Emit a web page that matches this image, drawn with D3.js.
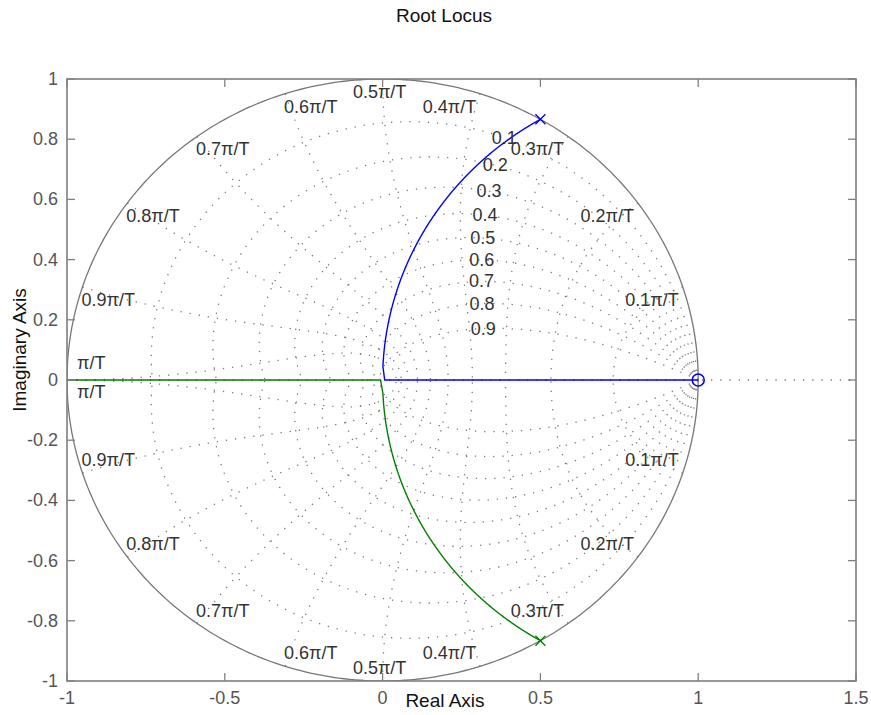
<!DOCTYPE html>
<html>
<head>
<meta charset="UTF-8">
<title>Root Locus</title>
<script src="https://d3js.org/d3.v7.min.js"></script>
<style>
body { margin: 0; background: #fff; }
text { font-family: "Liberation Sans", Arial, sans-serif; }
</style>
</head>
<body>
<div id="chart"></div>
<script>
// open-loop model: poles, zeros
var poles = [{re: 0.5, im: 0.866}, {re: 0.5, im: -0.866}];
var zeros = [{re: 1, im: 0}];

// zgrid values
var zetas = [0.1, 0.2, 0.3, 0.4, 0.5, 0.6, 0.7, 0.8, 0.9];
var wnSteps = [1, 2, 3, 4, 5, 6, 7, 8, 9, 10];   // wn = k*pi/(10T)
var wnLabels = ["0.1\u03c0/T", "0.2\u03c0/T", "0.3\u03c0/T", "0.4\u03c0/T", "0.5\u03c0/T",
                "0.6\u03c0/T", "0.7\u03c0/T", "0.8\u03c0/T", "0.9\u03c0/T", "\u03c0/T"];

var xTicks = [-1, -0.5, 0, 0.5, 1, 1.5];
var yTicks = [-1, -0.8, -0.6, -0.4, -0.2, 0, 0.2, 0.4, 0.6, 0.8, 1];

var W = 871, H = 715;
var margin = {left: 67, top: 79, right: 15, bottom: 34};
var w = W - margin.left - margin.right;
var h = H - margin.top - margin.bottom;

var x = d3.scaleLinear().domain([-1, 1.5]).range([0, w]);
var y = d3.scaleLinear().domain([-1, 1]).range([h, 0]);

var svg = d3.select("#chart").append("svg")
  .attr("width", W).attr("height", H);

svg.append("defs").append("clipPath").attr("id", "clip")
  .append("rect").attr("width", w).attr("height", h);

var g = svg.append("g").attr("transform", "translate(" + margin.left + "," + margin.top + ")");
var plot = g.append("g").attr("clip-path", "url(#clip)");

var line = d3.line().x(function(d){ return x(d[0]); }).y(function(d){ return y(d[1]); });

function dotted(pts) {
  plot.append("path").attr("d", line(pts))
    .attr("fill", "none").attr("stroke", "#7a7a7a")
    .attr("stroke-width", 1.3).attr("stroke-dasharray", "1.3,7.9");
}

// real axis
dotted([[-1, 0], [1.5, 0]]);

// damping lines: z = exp(theta*(-zeta/sqrt(1-zeta^2) + j)), theta 0..pi
zetas.forEach(function(zt) {
  var m = zt / Math.sqrt(1 - zt * zt);
  var up = d3.range(0, 201).map(function(i) {
    var th = Math.PI * i / 200, r = Math.exp(-m * th);
    return [r * Math.cos(th), r * Math.sin(th)];
  });
  dotted(up);
  dotted(up.map(function(p){ return [p[0], -p[1]]; }));
});

// natural frequency lines: z = exp(-wn*zeta + j*wn*sqrt(1-zeta^2)), zeta 0..1
wnSteps.forEach(function(k) {
  var wn = k * Math.PI / 10;
  var up = d3.range(0, 201).map(function(i) {
    var zt = i / 200, r = Math.exp(-wn * zt), th = wn * Math.sqrt(1 - zt * zt);
    return [r * Math.cos(th), r * Math.sin(th)];
  });
  dotted(up);
  dotted(up.map(function(p){ return [p[0], -p[1]]; }));
});

// unit circle
plot.append("path")
  .attr("d", line(d3.range(0, 361).map(function(i){
    var a = i * Math.PI / 180; return [Math.cos(a), Math.sin(a)];
  })))
  .attr("fill", "none").attr("stroke", "#777").attr("stroke-width", 1.3);

// zeta labels, placed on each damping curve at wn = 1.13
zetas.forEach(function(zt) {
  var wn = 1.13, r = Math.exp(-wn * zt), th = wn * Math.sqrt(1 - zt * zt);
  g.append("text")
    .attr("x", x(r * Math.cos(th))).attr("y", y(r * Math.sin(th)))
    .attr("text-anchor", "middle").attr("dominant-baseline", "central")
    .attr("font-size", 18).attr("fill", "#333").text(zt);
});

// wn labels near the unit circle, top and bottom
wnSteps.forEach(function(k, i) {
  var a = k * Math.PI / 10, cx = Math.cos(a), sy = Math.sin(a);
  [1, -1].forEach(function(s) {
    var anchor = cx > 0.01 ? "end" : (cx < -0.01 ? "start" : "middle");
    var dx = cx > 0.01 ? -4 : (cx < -0.01 ? -1 : -3);
    var dy = 13 * s;
    if (k === 10) { dx = 10; dy = s > 0 ? -17 : 12; }
    g.append("text")
      .attr("x", x(cx) + dx).attr("y", y(s * sy) + dy)
      .attr("text-anchor", anchor).attr("dominant-baseline", "central")
      .attr("font-size", 18).attr("fill", "#333").text(wnLabels[i]);
  });
});

// root locus: den(z) + K*num(z) = 0
var b0 = -(poles[0].re + poles[1].re);
var c0 = poles[0].re * poles[1].re - poles[0].im * poles[1].im;
var z0 = zeros[0].re;
var gains = d3.range(0, 1.0001, 0.002).concat(d3.range(1.002, 2, 0.002))
  .concat(d3.range(0, 60).map(function(i){ return 2 * Math.pow(1.15, i); }));
var blue = [], green = [];
gains.forEach(function(K) {
  var b = b0 + K, c = c0 - K * z0, disc = b * b - 4 * c;
  if (disc < 0) {
    var re = -b / 2, im = Math.sqrt(-disc) / 2;
    blue.push([re, im]); green.push([re, -im]);
  } else {
    var s = Math.sqrt(disc);
    blue.push([(-b + s) / 2, 0]); green.push([(-b - s) / 2, 0]);
  }
});
blue.push([z0, 0]);

plot.append("path").attr("d", line(blue)).attr("fill", "none")
  .attr("stroke", "#0000ff").attr("stroke-width", 1.4);
plot.append("path").attr("d", line(green)).attr("fill", "none")
  .attr("stroke", "#008000").attr("stroke-width", 1.4);

// pole markers
var colors = ["#0000ff", "#008000"];
poles.forEach(function(p, i) {
  var px = x(p.re), py = y(p.im), m = 5;
  g.append("path")
    .attr("d", "M" + (px - m) + "," + (py - m) + "L" + (px + m) + "," + (py + m) +
               "M" + (px - m) + "," + (py + m) + "L" + (px + m) + "," + (py - m))
    .attr("stroke", colors[i]).attr("stroke-width", 1.3);
});
// zero marker
zeros.forEach(function(zr) {
  g.append("circle").attr("cx", x(zr.re)).attr("cy", y(zr.im)).attr("r", 6)
    .attr("fill", "none").attr("stroke", "#0000ff").attr("stroke-width", 1.6);
});

// box and ticks
g.append("rect").attr("width", w).attr("height", h)
  .attr("fill", "none").attr("stroke", "#7f7f7f").attr("stroke-width", 1.6);

var tl = 8;
xTicks.forEach(function(t) {
  g.append("line").attr("x1", x(t)).attr("x2", x(t)).attr("y1", h).attr("y2", h - tl)
    .attr("stroke", "#7f7f7f").attr("stroke-width", 1.3);
  g.append("line").attr("x1", x(t)).attr("x2", x(t)).attr("y1", 0).attr("y2", tl)
    .attr("stroke", "#7f7f7f").attr("stroke-width", 1.3);
  g.append("text").attr("x", x(t)).attr("y", h + 17)
    .attr("text-anchor", "middle").attr("dominant-baseline", "central")
    .attr("font-size", 18).attr("fill", "#555").text(t);
});
yTicks.forEach(function(t) {
  g.append("line").attr("x1", 0).attr("x2", tl).attr("y1", y(t)).attr("y2", y(t))
    .attr("stroke", "#7f7f7f").attr("stroke-width", 1.3);
  g.append("line").attr("x1", w).attr("x2", w - tl).attr("y1", y(t)).attr("y2", y(t))
    .attr("stroke", "#7f7f7f").attr("stroke-width", 1.3);
  g.append("text").attr("x", -9).attr("y", y(t))
    .attr("text-anchor", "end").attr("dominant-baseline", "central")
    .attr("font-size", 18).attr("fill", "#555").text(t);
});

// titles
svg.append("text").attr("x", 444).attr("y", 15)
  .attr("text-anchor", "middle").attr("dominant-baseline", "central")
  .attr("font-size", 19).attr("fill", "#111").text("Root Locus");
svg.append("text").attr("x", 445).attr("y", 700)
  .attr("text-anchor", "middle").attr("dominant-baseline", "central")
  .attr("font-size", 19).attr("fill", "#111").text("Real Axis");
svg.append("text").attr("transform", "translate(19,350) rotate(-90)")
  .attr("text-anchor", "middle").attr("dominant-baseline", "central")
  .attr("font-size", 19).attr("fill", "#111").text("Imaginary Axis");
</script>
</body>
</html>
